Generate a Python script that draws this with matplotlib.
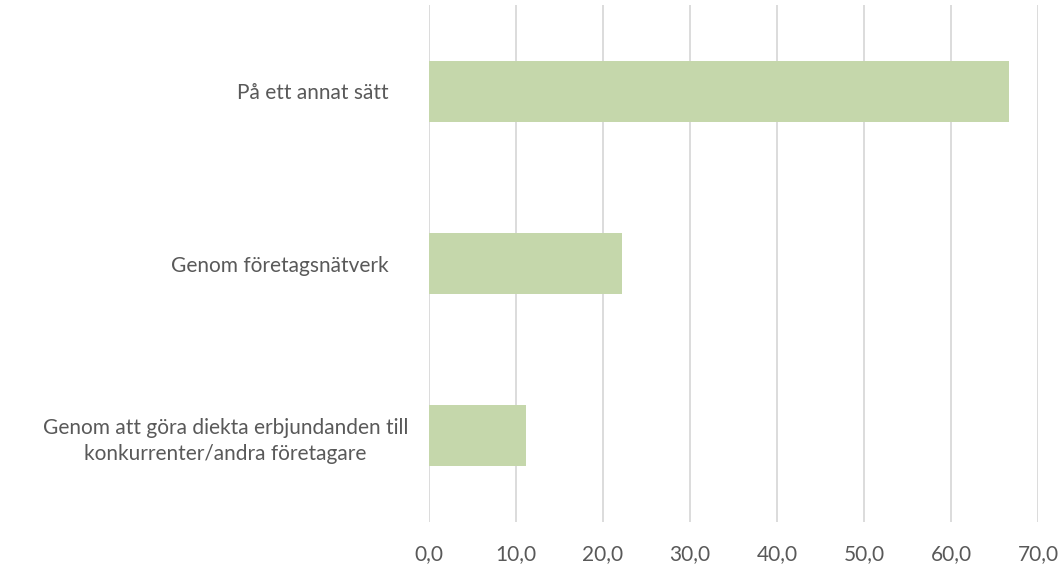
import matplotlib
matplotlib.use("Agg")
import matplotlib.pyplot as plt
from matplotlib.ticker import FuncFormatter
from matplotlib.transforms import ScaledTranslation

# data (top to bottom in the picture)
categories = [
    "På ett annat sätt",
    "Genom företagsnätverk",
    "Genom att göra diekta erbjundanden till\nkonkurrenter/andra företagare",
]
values = [66.7, 22.2, 11.1]
xticks = [0, 10, 20, 30, 40, 50, 60, 70]

plt.rcParams["font.family"] = ["Lato", "DejaVu Sans"]

fig = plt.figure(figsize=(10.63, 5.66), dpi=100)
ax = fig.add_axes([0.4036, 0.0777, 0.5729, 0.913])

ypos = list(range(len(categories)))[::-1]
ax.barh(ypos, values, height=0.355, color="#C5D7AB", zorder=2)

ax.set_xlim(0, 70)
ax.set_ylim(-0.5, 2.5)
ax.set_xticks(xticks)
ax.xaxis.set_major_formatter(FuncFormatter(lambda v, p: f"{v:.1f}".replace(".", ",")))
ax.set_yticks(ypos)
ax.set_yticklabels(categories, ha="right", multialignment="center", linespacing=1.4)

ax.grid(axis="x", color="#D9D9D9", linewidth=1.3, zorder=0)
for s in ax.spines.values():
    s.set_visible(False)
ax.tick_params(axis="both", length=0, labelsize=15, colors="#595959")
ax.tick_params(axis="x", pad=16)
ax.tick_params(axis="y", pad=15)

# single-line labels sit a bit further left than the wrapped one
shifts = [-0.2, -0.2, 0.0]
for lab, dx in zip(ax.get_yticklabels(), shifts):
    lab.set_transform(lab.get_transform() + ScaledTranslation(dx, 0, fig.dpi_scale_trans))

fig.savefig("out.png", dpi=100)
